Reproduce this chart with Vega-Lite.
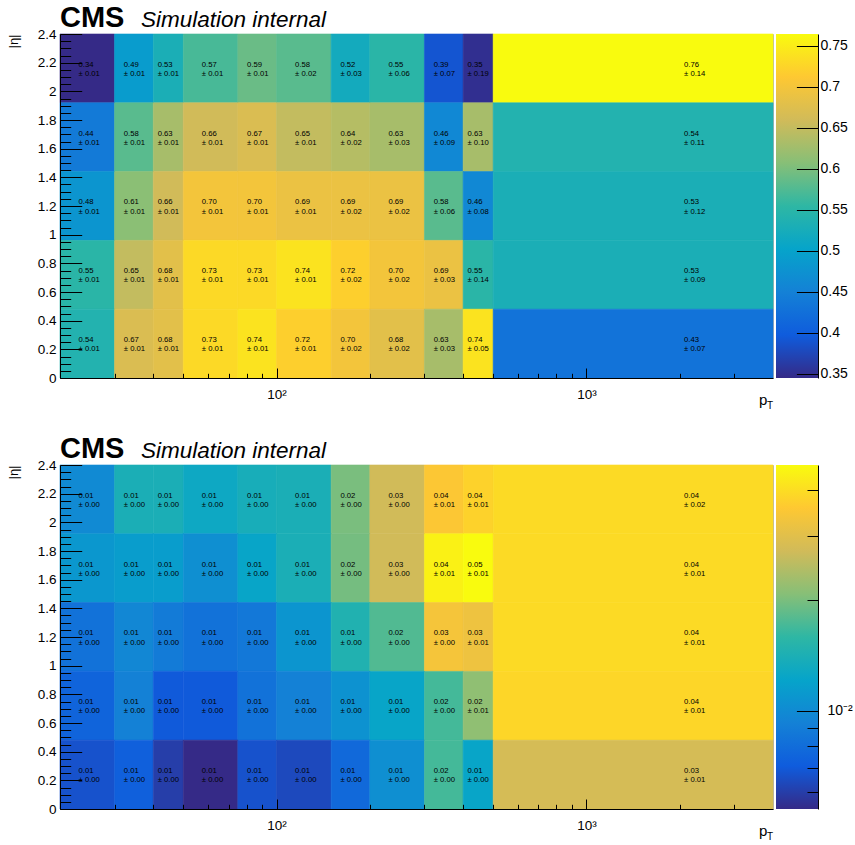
{
  "$schema": "https://vega.github.io/schema/vega-lite/v6.json",
  "padding": {"left": 6, "top": 3, "right": 0, "bottom": 0},
  "config": {
    "font": "Liberation Sans",
    "view": {"stroke": "#b4b4b4", "strokeWidth": 1},
    "axis": {"grid": false, "domainColor": "#000", "domainWidth": 1, "tickColor": "#000", "tickWidth": 1, "labelColor": "#000", "titleColor": "#000", "labelFont": "Liberation Sans", "titleFont": "Liberation Sans", "zindex": 1, "labelOverlap": false, "labelFlush": false, "labelBound": false}
  },
  "datasets": {
    "eff": [
      {"pt_lo": 20, "pt_hi": 30, "eta_lo": 1.92, "eta_hi": 2.4, "v": 0.3446, "err": 0.01},
      {"pt_lo": 30, "pt_hi": 40, "eta_lo": 1.92, "eta_hi": 2.4, "v": 0.49, "err": 0.01},
      {"pt_lo": 40, "pt_hi": 50, "eta_lo": 1.92, "eta_hi": 2.4, "v": 0.53, "err": 0.01},
      {"pt_lo": 50, "pt_hi": 75, "eta_lo": 1.92, "eta_hi": 2.4, "v": 0.57, "err": 0.01},
      {"pt_lo": 75, "pt_hi": 100, "eta_lo": 1.92, "eta_hi": 2.4, "v": 0.59, "err": 0.01},
      {"pt_lo": 100, "pt_hi": 150, "eta_lo": 1.92, "eta_hi": 2.4, "v": 0.58, "err": 0.02},
      {"pt_lo": 150, "pt_hi": 200, "eta_lo": 1.92, "eta_hi": 2.4, "v": 0.52, "err": 0.03},
      {"pt_lo": 200, "pt_hi": 300, "eta_lo": 1.92, "eta_hi": 2.4, "v": 0.55, "err": 0.06},
      {"pt_lo": 300, "pt_hi": 400, "eta_lo": 1.92, "eta_hi": 2.4, "v": 0.39, "err": 0.07},
      {"pt_lo": 400, "pt_hi": 500, "eta_lo": 1.92, "eta_hi": 2.4, "v": 0.35, "err": 0.19},
      {"pt_lo": 500, "pt_hi": 4000, "eta_lo": 1.92, "eta_hi": 2.4, "v": 0.7644, "err": 0.14},
      {"pt_lo": 20, "pt_hi": 30, "eta_lo": 1.44, "eta_hi": 1.92, "v": 0.44, "err": 0.01},
      {"pt_lo": 30, "pt_hi": 40, "eta_lo": 1.44, "eta_hi": 1.92, "v": 0.58, "err": 0.01},
      {"pt_lo": 40, "pt_hi": 50, "eta_lo": 1.44, "eta_hi": 1.92, "v": 0.63, "err": 0.01},
      {"pt_lo": 50, "pt_hi": 75, "eta_lo": 1.44, "eta_hi": 1.92, "v": 0.66, "err": 0.01},
      {"pt_lo": 75, "pt_hi": 100, "eta_lo": 1.44, "eta_hi": 1.92, "v": 0.67, "err": 0.01},
      {"pt_lo": 100, "pt_hi": 150, "eta_lo": 1.44, "eta_hi": 1.92, "v": 0.65, "err": 0.01},
      {"pt_lo": 150, "pt_hi": 200, "eta_lo": 1.44, "eta_hi": 1.92, "v": 0.64, "err": 0.02},
      {"pt_lo": 200, "pt_hi": 300, "eta_lo": 1.44, "eta_hi": 1.92, "v": 0.63, "err": 0.03},
      {"pt_lo": 300, "pt_hi": 400, "eta_lo": 1.44, "eta_hi": 1.92, "v": 0.46, "err": 0.09},
      {"pt_lo": 400, "pt_hi": 500, "eta_lo": 1.44, "eta_hi": 1.92, "v": 0.63, "err": 0.10},
      {"pt_lo": 500, "pt_hi": 4000, "eta_lo": 1.44, "eta_hi": 1.92, "v": 0.54, "err": 0.11},
      {"pt_lo": 20, "pt_hi": 30, "eta_lo": 0.96, "eta_hi": 1.44, "v": 0.48, "err": 0.01},
      {"pt_lo": 30, "pt_hi": 40, "eta_lo": 0.96, "eta_hi": 1.44, "v": 0.61, "err": 0.01},
      {"pt_lo": 40, "pt_hi": 50, "eta_lo": 0.96, "eta_hi": 1.44, "v": 0.66, "err": 0.01},
      {"pt_lo": 50, "pt_hi": 75, "eta_lo": 0.96, "eta_hi": 1.44, "v": 0.70, "err": 0.01},
      {"pt_lo": 75, "pt_hi": 100, "eta_lo": 0.96, "eta_hi": 1.44, "v": 0.70, "err": 0.01},
      {"pt_lo": 100, "pt_hi": 150, "eta_lo": 0.96, "eta_hi": 1.44, "v": 0.69, "err": 0.01},
      {"pt_lo": 150, "pt_hi": 200, "eta_lo": 0.96, "eta_hi": 1.44, "v": 0.69, "err": 0.02},
      {"pt_lo": 200, "pt_hi": 300, "eta_lo": 0.96, "eta_hi": 1.44, "v": 0.69, "err": 0.02},
      {"pt_lo": 300, "pt_hi": 400, "eta_lo": 0.96, "eta_hi": 1.44, "v": 0.58, "err": 0.06},
      {"pt_lo": 400, "pt_hi": 500, "eta_lo": 0.96, "eta_hi": 1.44, "v": 0.46, "err": 0.08},
      {"pt_lo": 500, "pt_hi": 4000, "eta_lo": 0.96, "eta_hi": 1.44, "v": 0.53, "err": 0.12},
      {"pt_lo": 20, "pt_hi": 30, "eta_lo": 0.48, "eta_hi": 0.96, "v": 0.55, "err": 0.01},
      {"pt_lo": 30, "pt_hi": 40, "eta_lo": 0.48, "eta_hi": 0.96, "v": 0.65, "err": 0.01},
      {"pt_lo": 40, "pt_hi": 50, "eta_lo": 0.48, "eta_hi": 0.96, "v": 0.68, "err": 0.01},
      {"pt_lo": 50, "pt_hi": 75, "eta_lo": 0.48, "eta_hi": 0.96, "v": 0.73, "err": 0.01},
      {"pt_lo": 75, "pt_hi": 100, "eta_lo": 0.48, "eta_hi": 0.96, "v": 0.73, "err": 0.01},
      {"pt_lo": 100, "pt_hi": 150, "eta_lo": 0.48, "eta_hi": 0.96, "v": 0.74, "err": 0.01},
      {"pt_lo": 150, "pt_hi": 200, "eta_lo": 0.48, "eta_hi": 0.96, "v": 0.72, "err": 0.02},
      {"pt_lo": 200, "pt_hi": 300, "eta_lo": 0.48, "eta_hi": 0.96, "v": 0.70, "err": 0.02},
      {"pt_lo": 300, "pt_hi": 400, "eta_lo": 0.48, "eta_hi": 0.96, "v": 0.69, "err": 0.03},
      {"pt_lo": 400, "pt_hi": 500, "eta_lo": 0.48, "eta_hi": 0.96, "v": 0.55, "err": 0.14},
      {"pt_lo": 500, "pt_hi": 4000, "eta_lo": 0.48, "eta_hi": 0.96, "v": 0.53, "err": 0.09},
      {"pt_lo": 20, "pt_hi": 30, "eta_lo": 0, "eta_hi": 0.48, "v": 0.54, "err": 0.01},
      {"pt_lo": 30, "pt_hi": 40, "eta_lo": 0, "eta_hi": 0.48, "v": 0.67, "err": 0.01},
      {"pt_lo": 40, "pt_hi": 50, "eta_lo": 0, "eta_hi": 0.48, "v": 0.68, "err": 0.01},
      {"pt_lo": 50, "pt_hi": 75, "eta_lo": 0, "eta_hi": 0.48, "v": 0.73, "err": 0.01},
      {"pt_lo": 75, "pt_hi": 100, "eta_lo": 0, "eta_hi": 0.48, "v": 0.74, "err": 0.01},
      {"pt_lo": 100, "pt_hi": 150, "eta_lo": 0, "eta_hi": 0.48, "v": 0.72, "err": 0.01},
      {"pt_lo": 150, "pt_hi": 200, "eta_lo": 0, "eta_hi": 0.48, "v": 0.70, "err": 0.02},
      {"pt_lo": 200, "pt_hi": 300, "eta_lo": 0, "eta_hi": 0.48, "v": 0.68, "err": 0.02},
      {"pt_lo": 300, "pt_hi": 400, "eta_lo": 0, "eta_hi": 0.48, "v": 0.63, "err": 0.03},
      {"pt_lo": 400, "pt_hi": 500, "eta_lo": 0, "eta_hi": 0.48, "v": 0.74, "err": 0.05},
      {"pt_lo": 500, "pt_hi": 4000, "eta_lo": 0, "eta_hi": 0.48, "v": 0.43, "err": 0.07}
    ],
    "fake": [
      {"pt_lo": 20, "pt_hi": 30, "eta_lo": 1.92, "eta_hi": 2.4, "v": 0.0099, "err": 0.00},
      {"pt_lo": 30, "pt_hi": 40, "eta_lo": 1.92, "eta_hi": 2.4, "v": 0.0140, "err": 0.00},
      {"pt_lo": 40, "pt_hi": 50, "eta_lo": 1.92, "eta_hi": 2.4, "v": 0.0140, "err": 0.00},
      {"pt_lo": 50, "pt_hi": 75, "eta_lo": 1.92, "eta_hi": 2.4, "v": 0.0128, "err": 0.00},
      {"pt_lo": 75, "pt_hi": 100, "eta_lo": 1.92, "eta_hi": 2.4, "v": 0.0137, "err": 0.00},
      {"pt_lo": 100, "pt_hi": 150, "eta_lo": 1.92, "eta_hi": 2.4, "v": 0.0140, "err": 0.00},
      {"pt_lo": 150, "pt_hi": 200, "eta_lo": 1.92, "eta_hi": 2.4, "v": 0.0200, "err": 0.00},
      {"pt_lo": 200, "pt_hi": 300, "eta_lo": 1.92, "eta_hi": 2.4, "v": 0.0273, "err": 0.00},
      {"pt_lo": 300, "pt_hi": 400, "eta_lo": 1.92, "eta_hi": 2.4, "v": 0.0353, "err": 0.01},
      {"pt_lo": 400, "pt_hi": 500, "eta_lo": 1.92, "eta_hi": 2.4, "v": 0.0377, "err": 0.01},
      {"pt_lo": 500, "pt_hi": 4000, "eta_lo": 1.92, "eta_hi": 2.4, "v": 0.0394, "err": 0.02},
      {"pt_lo": 20, "pt_hi": 30, "eta_lo": 1.44, "eta_hi": 1.92, "v": 0.0110, "err": 0.00},
      {"pt_lo": 30, "pt_hi": 40, "eta_lo": 1.44, "eta_hi": 1.92, "v": 0.0115, "err": 0.00},
      {"pt_lo": 40, "pt_hi": 50, "eta_lo": 1.44, "eta_hi": 1.92, "v": 0.0115, "err": 0.00},
      {"pt_lo": 50, "pt_hi": 75, "eta_lo": 1.44, "eta_hi": 1.92, "v": 0.0103, "err": 0.00},
      {"pt_lo": 75, "pt_hi": 100, "eta_lo": 1.44, "eta_hi": 1.92, "v": 0.0123, "err": 0.00},
      {"pt_lo": 100, "pt_hi": 150, "eta_lo": 1.44, "eta_hi": 1.92, "v": 0.0140, "err": 0.00},
      {"pt_lo": 150, "pt_hi": 200, "eta_lo": 1.44, "eta_hi": 1.92, "v": 0.0197, "err": 0.00},
      {"pt_lo": 200, "pt_hi": 300, "eta_lo": 1.44, "eta_hi": 1.92, "v": 0.0273, "err": 0.00},
      {"pt_lo": 300, "pt_hi": 400, "eta_lo": 1.44, "eta_hi": 1.92, "v": 0.0443, "err": 0.01},
      {"pt_lo": 400, "pt_hi": 500, "eta_lo": 1.44, "eta_hi": 1.92, "v": 0.0468, "err": 0.01},
      {"pt_lo": 500, "pt_hi": 4000, "eta_lo": 1.44, "eta_hi": 1.92, "v": 0.0394, "err": 0.01},
      {"pt_lo": 20, "pt_hi": 30, "eta_lo": 0.96, "eta_hi": 1.44, "v": 0.0083, "err": 0.00},
      {"pt_lo": 30, "pt_hi": 40, "eta_lo": 0.96, "eta_hi": 1.44, "v": 0.0097, "err": 0.00},
      {"pt_lo": 40, "pt_hi": 50, "eta_lo": 0.96, "eta_hi": 1.44, "v": 0.0089, "err": 0.00},
      {"pt_lo": 50, "pt_hi": 75, "eta_lo": 0.96, "eta_hi": 1.44, "v": 0.0083, "err": 0.00},
      {"pt_lo": 75, "pt_hi": 100, "eta_lo": 0.96, "eta_hi": 1.44, "v": 0.0087, "err": 0.00},
      {"pt_lo": 100, "pt_hi": 150, "eta_lo": 0.96, "eta_hi": 1.44, "v": 0.0108, "err": 0.00},
      {"pt_lo": 150, "pt_hi": 200, "eta_lo": 0.96, "eta_hi": 1.44, "v": 0.0146, "err": 0.00},
      {"pt_lo": 200, "pt_hi": 300, "eta_lo": 0.96, "eta_hi": 1.44, "v": 0.0177, "err": 0.00},
      {"pt_lo": 300, "pt_hi": 400, "eta_lo": 0.96, "eta_hi": 1.44, "v": 0.0338, "err": 0.00},
      {"pt_lo": 400, "pt_hi": 500, "eta_lo": 0.96, "eta_hi": 1.44, "v": 0.0324, "err": 0.01},
      {"pt_lo": 500, "pt_hi": 4000, "eta_lo": 0.96, "eta_hi": 1.44, "v": 0.0394, "err": 0.01},
      {"pt_lo": 20, "pt_hi": 30, "eta_lo": 0.48, "eta_hi": 0.96, "v": 0.0075, "err": 0.00},
      {"pt_lo": 30, "pt_hi": 40, "eta_lo": 0.48, "eta_hi": 0.96, "v": 0.0093, "err": 0.00},
      {"pt_lo": 40, "pt_hi": 50, "eta_lo": 0.48, "eta_hi": 0.96, "v": 0.0070, "err": 0.00},
      {"pt_lo": 50, "pt_hi": 75, "eta_lo": 0.48, "eta_hi": 0.96, "v": 0.0070, "err": 0.00},
      {"pt_lo": 75, "pt_hi": 100, "eta_lo": 0.48, "eta_hi": 0.96, "v": 0.0083, "err": 0.00},
      {"pt_lo": 100, "pt_hi": 150, "eta_lo": 0.48, "eta_hi": 0.96, "v": 0.0093, "err": 0.00},
      {"pt_lo": 150, "pt_hi": 200, "eta_lo": 0.48, "eta_hi": 0.96, "v": 0.0106, "err": 0.00},
      {"pt_lo": 200, "pt_hi": 300, "eta_lo": 0.48, "eta_hi": 0.96, "v": 0.0123, "err": 0.00},
      {"pt_lo": 300, "pt_hi": 400, "eta_lo": 0.48, "eta_hi": 0.96, "v": 0.0170, "err": 0.00},
      {"pt_lo": 400, "pt_hi": 500, "eta_lo": 0.48, "eta_hi": 0.96, "v": 0.0215, "err": 0.01},
      {"pt_lo": 500, "pt_hi": 4000, "eta_lo": 0.48, "eta_hi": 0.96, "v": 0.0385, "err": 0.01},
      {"pt_lo": 20, "pt_hi": 30, "eta_lo": 0, "eta_hi": 0.48, "v": 0.0067, "err": 0.00},
      {"pt_lo": 30, "pt_hi": 40, "eta_lo": 0, "eta_hi": 0.48, "v": 0.0073, "err": 0.00},
      {"pt_lo": 40, "pt_hi": 50, "eta_lo": 0, "eta_hi": 0.48, "v": 0.0060, "err": 0.00},
      {"pt_lo": 50, "pt_hi": 75, "eta_lo": 0, "eta_hi": 0.48, "v": 0.0054, "err": 0.00},
      {"pt_lo": 75, "pt_hi": 100, "eta_lo": 0, "eta_hi": 0.48, "v": 0.0067, "err": 0.00},
      {"pt_lo": 100, "pt_hi": 150, "eta_lo": 0, "eta_hi": 0.48, "v": 0.0064, "err": 0.00},
      {"pt_lo": 150, "pt_hi": 200, "eta_lo": 0, "eta_hi": 0.48, "v": 0.0078, "err": 0.00},
      {"pt_lo": 200, "pt_hi": 300, "eta_lo": 0, "eta_hi": 0.48, "v": 0.0103, "err": 0.00},
      {"pt_lo": 300, "pt_hi": 400, "eta_lo": 0, "eta_hi": 0.48, "v": 0.0170, "err": 0.00},
      {"pt_lo": 400, "pt_hi": 500, "eta_lo": 0, "eta_hi": 0.48, "v": 0.0123, "err": 0.00},
      {"pt_lo": 500, "pt_hi": 4000, "eta_lo": 0, "eta_hi": 0.48, "v": 0.0279, "err": 0.01}
    ],
    "zrange_eff": [{"zlo": 0.3446, "zhi": 0.7645}],
    "zrange_fake": [{"zlo": 0.0054, "zhi": 0.0468}],
    "titles": [{"cms": "CMS", "sim": "Simulation internal", "px": "p", "sub": "T"}]
  },
  "vconcat": [
    {
      "hconcat": [
        {
          "width": 713, "height": 344,
          "layer": [
            {
              "data": {"name": "eff"},
              "mark": {"type": "rect", "strokeWidth": 0.6},
              "encoding": {
                "x": {"field": "pt_lo", "type": "quantitative", "scale": {"type": "log", "domain": [20, 4000], "nice": false},
                  "axis": {"title": null, "zindex": 2, "tickCount": 200, "values": [20,30,40,50,60,70,80,90,100,200,300,400,500,600,700,800,900,1000,2000,3000],
                    "tickSize": {"condition": {"test": "datum.value == 100 || datum.value == 1000", "value": -10}, "value": -4.7},
                    "labelExpr": "datum.value == 100 ? '10²' : (datum.value == 1000 ? '10³' : '')",
                    "labelPadding": 19, "labelFontSize": 13.5}},
                "x2": {"field": "pt_hi"},
                "y": {"field": "eta_lo", "type": "quantitative", "scale": {"domain": [0, 2.4], "nice": false, "zero": false},
                  "axis": {"title": "|η|", "zindex": 2, "tickCount": 200, "titleAnchor": "end", "titleFontSize": 13, "titleFontWeight": "normal", "titlePadding": 17,
                    "values": [0,0.05,0.1,0.15,0.2,0.25,0.3,0.35,0.4,0.45,0.5,0.55,0.6,0.65,0.7,0.75,0.8,0.85,0.9,0.95,1,1.05,1.1,1.15,1.2,1.25,1.3,1.35,1.4,1.45,1.5,1.55,1.6,1.65,1.7,1.75,1.8,1.85,1.9,1.95,2,2.05,2.1,2.15,2.2,2.25,2.3,2.35,2.4],
                    "tickSize": {"condition": {"test": "abs(datum.value*5 - round(datum.value*5)) < 0.01", "value": -21.7}, "value": -10.7},
                    "labelExpr": "abs(datum.value*5 - round(datum.value*5)) < 0.01 ? format(datum.value, '~g') : ''",
                    "labelPadding": 25.7, "labelFontSize": 13.5}},
                "y2": {"field": "eta_hi"},
                "color": {"field": "v", "type": "quantitative",
                  "scale": {"domain": [0.3446, 0.39715, 0.4497, 0.50225, 0.5548, 0.60735, 0.6599, 0.71245, 0.7645],
                    "range": ["#352a87", "#0f5cdd", "#1481d6", "#06a4ca", "#2eb7a4", "#87bf77", "#d1bb59", "#fec832", "#f9fb0e"],
                    "interpolate": "rgb"}, "legend": null},
                "stroke": {"field": "v", "type": "quantitative",
                  "scale": {"domain": [0.3446, 0.39715, 0.4497, 0.50225, 0.5548, 0.60735, 0.6599, 0.71245, 0.7645],
                    "range": ["#352a87", "#0f5cdd", "#1481d6", "#06a4ca", "#2eb7a4", "#87bf77", "#d1bb59", "#fec832", "#f9fb0e"],
                    "interpolate": "rgb"}, "legend": null}
              }
            },
            {
              "data": {"name": "eff"},
              "transform": [
                {"calculate": "(datum.pt_lo + datum.pt_hi) / 2", "as": "pt_c"},
                {"calculate": "(datum.eta_lo + datum.eta_hi) / 2", "as": "eta_c"}
              ],
              "mark": {"type": "text", "align": "left", "baseline": "alphabetic", "dx": -11.5, "dy": -1.7, "fontSize": 7.7, "font": "Liberation Sans", "color": "#000"},
              "encoding": {
                "x": {"field": "pt_c", "type": "quantitative"},
                "y": {"field": "eta_c", "type": "quantitative"},
                "text": {"field": "v", "type": "quantitative", "format": ".2f"}
              }
            },
            {
              "data": {"name": "eff"},
              "transform": [
                {"calculate": "(datum.pt_lo + datum.pt_hi) / 2", "as": "pt_c"},
                {"calculate": "(datum.eta_lo + datum.eta_hi) / 2", "as": "eta_c"},
                {"calculate": "'± ' + format(datum.err, '.2f')", "as": "err_label"}
              ],
              "mark": {"type": "text", "align": "left", "baseline": "alphabetic", "dx": -11.5, "dy": 7.6, "fontSize": 7.7, "font": "Liberation Sans", "color": "#000"},
              "encoding": {
                "x": {"field": "pt_c", "type": "quantitative"},
                "y": {"field": "eta_c", "type": "quantitative"},
                "text": {"field": "err_label", "type": "nominal"}
              }
            },
            {
              "data": {"name": "titles"},
              "mark": {"type": "text", "align": "left", "baseline": "alphabetic", "dy": -7, "fontSize": 29, "fontWeight": "bold", "font": "Liberation Sans", "color": "#000"},
              "encoding": {"x": {"datum": 20, "type": "quantitative"}, "y": {"datum": 2.4, "type": "quantitative"}, "text": {"field": "cms"}}
            },
            {
              "data": {"name": "titles"},
              "mark": {"type": "text", "align": "left", "baseline": "alphabetic", "dx": 81, "dy": -7.5, "fontSize": 22.5, "fontStyle": "italic", "font": "Liberation Sans", "color": "#000"},
              "encoding": {"x": {"datum": 20, "type": "quantitative"}, "y": {"datum": 2.4, "type": "quantitative"}, "text": {"field": "sim"}}
            },
            {
              "data": {"name": "titles"},
              "mark": {"type": "text", "align": "left", "baseline": "alphabetic", "dx": -14, "dy": 27, "fontSize": 15, "font": "Liberation Sans", "color": "#000"},
              "encoding": {"x": {"datum": 4000, "type": "quantitative"}, "y": {"datum": 0, "type": "quantitative"}, "text": {"field": "px"}}
            },
            {
              "data": {"name": "titles"},
              "mark": {"type": "text", "align": "left", "baseline": "alphabetic", "dx": -6, "dy": 31, "fontSize": 10, "font": "Liberation Sans", "color": "#000"},
              "encoding": {"x": {"datum": 4000, "type": "quantitative"}, "y": {"datum": 0, "type": "quantitative"}, "text": {"field": "sub"}}
            }
          ]
        },
        {
          "width": 42, "height": 344,
          "view": {"stroke": null},
          "data": {"name": "zrange_eff"},
          "mark": {"type": "rect", "fill": {"gradient": "linear", "x1": 0, "y1": 1, "x2": 0, "y2": 0,
            "stops": [{"offset": 0, "color": "#352a87"}, {"offset": 0.125, "color": "#0f5cdd"}, {"offset": 0.25, "color": "#1481d6"}, {"offset": 0.375, "color": "#06a4ca"}, {"offset": 0.5, "color": "#2eb7a4"}, {"offset": 0.625, "color": "#87bf77"}, {"offset": 0.75, "color": "#d1bb59"}, {"offset": 0.875, "color": "#fec832"}, {"offset": 1, "color": "#f9fb0e"}]}},
          "encoding": {
            "x": {"datum": 0, "type": "quantitative", "scale": {"domain": [0, 1]}, "axis": null},
            "x2": {"datum": 1},
            "y": {"field": "zlo", "type": "quantitative", "scale": {"domain": [0.3446, 0.7645], "nice": false, "zero": false},
              "axis": {"orient": "right", "zindex": 2, "tickCount": 200, "title": null, "values": [0.35,0.4,0.45,0.5,0.55,0.6,0.65,0.7,0.75], "format": ".2~f",
                "tickSize": -21.6, "labelPadding": 23.6, "labelFontSize": 14}},
            "y2": {"field": "zhi"}
          }
        }
      ],
      "spacing": 3,
      "bounds": "flush",
      "resolve": {"scale": {"x": "independent", "y": "independent", "color": "independent", "stroke": "independent"}, "axis": {"x": "independent", "y": "independent"}}
    },
    {
      "hconcat": [
        {
          "width": 713, "height": 344,
          "layer": [
            {
              "data": {"name": "fake"},
              "mark": {"type": "rect", "strokeWidth": 0.6},
              "encoding": {
                "x": {"field": "pt_lo", "type": "quantitative", "scale": {"type": "log", "domain": [20, 4000], "nice": false},
                  "axis": {"title": null, "zindex": 2, "tickCount": 200, "values": [20,30,40,50,60,70,80,90,100,200,300,400,500,600,700,800,900,1000,2000,3000],
                    "tickSize": {"condition": {"test": "datum.value == 100 || datum.value == 1000", "value": -10}, "value": -4.7},
                    "labelExpr": "datum.value == 100 ? '10²' : (datum.value == 1000 ? '10³' : '')",
                    "labelPadding": 19, "labelFontSize": 13.5}},
                "x2": {"field": "pt_hi"},
                "y": {"field": "eta_lo", "type": "quantitative", "scale": {"domain": [0, 2.4], "nice": false, "zero": false},
                  "axis": {"title": "|η|", "zindex": 2, "tickCount": 200, "titleAnchor": "end", "titleFontSize": 13, "titleFontWeight": "normal", "titlePadding": 17,
                    "values": [0,0.05,0.1,0.15,0.2,0.25,0.3,0.35,0.4,0.45,0.5,0.55,0.6,0.65,0.7,0.75,0.8,0.85,0.9,0.95,1,1.05,1.1,1.15,1.2,1.25,1.3,1.35,1.4,1.45,1.5,1.55,1.6,1.65,1.7,1.75,1.8,1.85,1.9,1.95,2,2.05,2.1,2.15,2.2,2.25,2.3,2.35,2.4],
                    "tickSize": {"condition": {"test": "abs(datum.value*5 - round(datum.value*5)) < 0.01", "value": -21.7}, "value": -10.7},
                    "labelExpr": "abs(datum.value*5 - round(datum.value*5)) < 0.01 ? format(datum.value, '~g') : ''",
                    "labelPadding": 25.7, "labelFontSize": 13.5}},
                "y2": {"field": "eta_hi"},
                "color": {"field": "v", "type": "quantitative",
                  "scale": {"type": "log", "domain": [0.0054, 0.007073, 0.009266, 0.012137, 0.015898, 0.020829, 0.027281, 0.035727, 0.0468],
                    "range": ["#352a87", "#0f5cdd", "#1481d6", "#06a4ca", "#2eb7a4", "#87bf77", "#d1bb59", "#fec832", "#f9fb0e"],
                    "interpolate": "rgb"}, "legend": null},
                "stroke": {"field": "v", "type": "quantitative",
                  "scale": {"type": "log", "domain": [0.0054, 0.007073, 0.009266, 0.012137, 0.015898, 0.020829, 0.027281, 0.035727, 0.0468],
                    "range": ["#352a87", "#0f5cdd", "#1481d6", "#06a4ca", "#2eb7a4", "#87bf77", "#d1bb59", "#fec832", "#f9fb0e"],
                    "interpolate": "rgb"}, "legend": null}
              }
            },
            {
              "data": {"name": "fake"},
              "transform": [
                {"calculate": "(datum.pt_lo + datum.pt_hi) / 2", "as": "pt_c"},
                {"calculate": "(datum.eta_lo + datum.eta_hi) / 2", "as": "eta_c"}
              ],
              "mark": {"type": "text", "align": "left", "baseline": "alphabetic", "dx": -11.5, "dy": -1.7, "fontSize": 7.7, "font": "Liberation Sans", "color": "#000"},
              "encoding": {
                "x": {"field": "pt_c", "type": "quantitative"},
                "y": {"field": "eta_c", "type": "quantitative"},
                "text": {"field": "v", "type": "quantitative", "format": ".2f"}
              }
            },
            {
              "data": {"name": "fake"},
              "transform": [
                {"calculate": "(datum.pt_lo + datum.pt_hi) / 2", "as": "pt_c"},
                {"calculate": "(datum.eta_lo + datum.eta_hi) / 2", "as": "eta_c"},
                {"calculate": "'± ' + format(datum.err, '.2f')", "as": "err_label"}
              ],
              "mark": {"type": "text", "align": "left", "baseline": "alphabetic", "dx": -11.5, "dy": 7.6, "fontSize": 7.7, "font": "Liberation Sans", "color": "#000"},
              "encoding": {
                "x": {"field": "pt_c", "type": "quantitative"},
                "y": {"field": "eta_c", "type": "quantitative"},
                "text": {"field": "err_label", "type": "nominal"}
              }
            },
            {
              "data": {"name": "titles"},
              "mark": {"type": "text", "align": "left", "baseline": "alphabetic", "dy": -7, "fontSize": 29, "fontWeight": "bold", "font": "Liberation Sans", "color": "#000"},
              "encoding": {"x": {"datum": 20, "type": "quantitative"}, "y": {"datum": 2.4, "type": "quantitative"}, "text": {"field": "cms"}}
            },
            {
              "data": {"name": "titles"},
              "mark": {"type": "text", "align": "left", "baseline": "alphabetic", "dx": 81, "dy": -7.5, "fontSize": 22.5, "fontStyle": "italic", "font": "Liberation Sans", "color": "#000"},
              "encoding": {"x": {"datum": 20, "type": "quantitative"}, "y": {"datum": 2.4, "type": "quantitative"}, "text": {"field": "sim"}}
            },
            {
              "data": {"name": "titles"},
              "mark": {"type": "text", "align": "left", "baseline": "alphabetic", "dx": -14, "dy": 27, "fontSize": 15, "font": "Liberation Sans", "color": "#000"},
              "encoding": {"x": {"datum": 4000, "type": "quantitative"}, "y": {"datum": 0, "type": "quantitative"}, "text": {"field": "px"}}
            },
            {
              "data": {"name": "titles"},
              "mark": {"type": "text", "align": "left", "baseline": "alphabetic", "dx": -6, "dy": 31, "fontSize": 10, "font": "Liberation Sans", "color": "#000"},
              "encoding": {"x": {"datum": 4000, "type": "quantitative"}, "y": {"datum": 0, "type": "quantitative"}, "text": {"field": "sub"}}
            }
          ]
        },
        {
          "width": 42, "height": 344,
          "view": {"stroke": null},
          "data": {"name": "zrange_fake"},
          "mark": {"type": "rect", "fill": {"gradient": "linear", "x1": 0, "y1": 1, "x2": 0, "y2": 0,
            "stops": [{"offset": 0, "color": "#352a87"}, {"offset": 0.125, "color": "#0f5cdd"}, {"offset": 0.25, "color": "#1481d6"}, {"offset": 0.375, "color": "#06a4ca"}, {"offset": 0.5, "color": "#2eb7a4"}, {"offset": 0.625, "color": "#87bf77"}, {"offset": 0.75, "color": "#d1bb59"}, {"offset": 0.875, "color": "#fec832"}, {"offset": 1, "color": "#f9fb0e"}]}},
          "encoding": {
            "x": {"datum": 0, "type": "quantitative", "scale": {"domain": [0, 1]}, "axis": null},
            "x2": {"datum": 1},
            "y": {"field": "zlo", "type": "quantitative", "scale": {"type": "log", "domain": [0.0054, 0.0468], "nice": false, "zero": false},
              "axis": {"orient": "right", "zindex": 2, "tickCount": 200, "title": null, "values": [0.006,0.007,0.008,0.009,0.01,0.02,0.03,0.04],
                "labelExpr": "abs(datum.value - 0.01) < 0.000001 ? '10⁻²' : ''",
                "tickSize": {"condition": {"test": "abs(datum.value - 0.01) < 0.000001", "value": -21.6}, "value": -11},
                "labelPadding": 30.6, "labelFontSize": 14}},
            "y2": {"field": "zhi"}
          }
        }
      ],
      "spacing": 3,
      "bounds": "flush",
      "resolve": {"scale": {"x": "independent", "y": "independent", "color": "independent", "stroke": "independent"}, "axis": {"x": "independent", "y": "independent"}}
    }
  ],
  "spacing": 22,
  "resolve": {"scale": {"x": "independent", "y": "independent", "color": "independent", "stroke": "independent"}, "axis": {"x": "independent", "y": "independent"}}
}
